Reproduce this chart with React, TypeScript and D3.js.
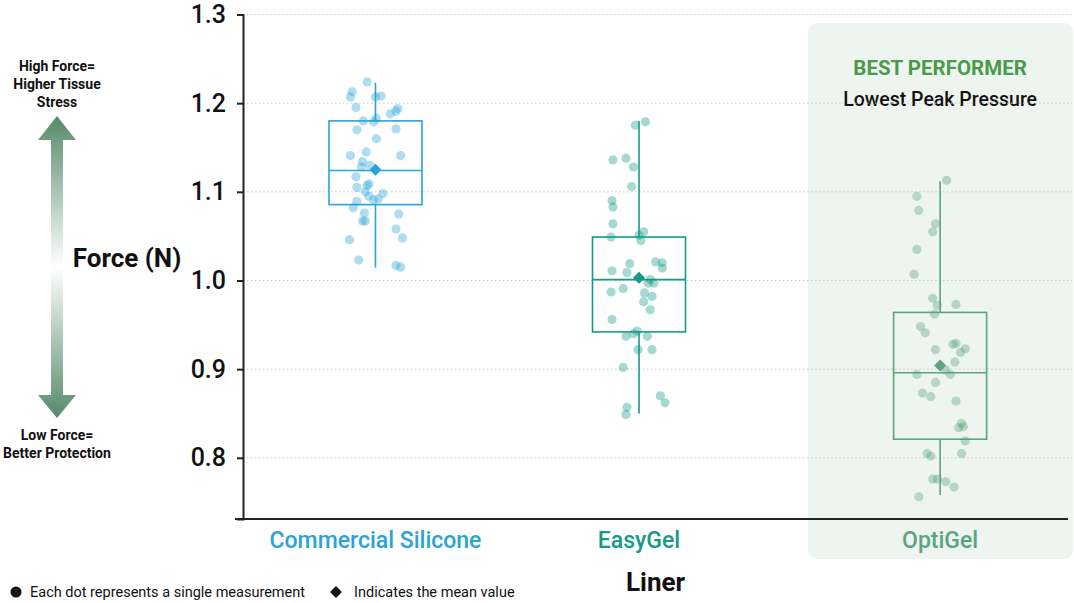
import React, { useEffect, useRef } from 'react';
import * as d3 from 'd3';

// categories and summary stats
const categories = ['Commercial Silicone', 'EasyGel', 'OptiGel'];
const colors = ['#2ba3d8', '#169a88', '#5aa47e'];
const q1 = [1.0856, 0.942, 0.821];
const medians = [1.124, 1.001, 0.896];
const q3 = [1.18, 1.049, 0.964];
const whiskerLow = [1.0144, 0.85, 0.758];
const whiskerHigh = [1.223, 1.18, 1.112];
const means = [1.125, 1.003, 0.904];

// individual measurements
const siliconeValues = [
  1.224, 1.213, 1.207, 1.207, 1.208, 1.195, 1.194, 1.191, 1.188, 1.183, 1.179, 1.18, 1.17, 1.171,
  1.16, 1.145, 1.141, 1.141, 1.134, 1.128, 1.13, 1.117, 1.109, 1.105, 1.107, 1.1, 1.095, 1.092,
  1.098, 1.091, 1.089, 1.082, 1.076, 1.075, 1.067, 1.067, 1.058, 1.048, 1.046, 1.023, 1.017, 1.015,
];
const siliconeJitter = [
  -0.09, -0.25, -0.27, 0.0, 0.06, -0.21, 0.24, 0.22, 0.16, 0.01, -0.02, -0.13, -0.2, 0.22,
  0.01, -0.1, -0.27, 0.27, -0.14, -0.15, -0.06, -0.21, -0.07, -0.2, -0.09, -0.11, -0.07, 0.03,
  0.08, -0.02, -0.2, -0.24, -0.12, 0.25, -0.14, -0.11, 0.22, 0.29, -0.28, -0.18, 0.22, 0.27,
];
const easyGelValues = [
  1.179, 1.175, 1.136, 1.138, 1.128, 1.106, 1.09, 1.083, 1.064, 1.049, 1.051, 1.055, 1.045, 1.019,
  1.011, 1.009, 1.021, 1.02, 1.014, 1.001, 0.997, 0.997, 0.987, 0.991, 0.986, 0.982, 0.976, 0.967,
  0.956, 0.943, 0.94, 0.937, 0.937, 0.922, 0.922, 0.902, 0.87, 0.862, 0.857, 0.849,
];
const easyGelJitter = [
  0.07, -0.04, -0.28, -0.14, -0.06, -0.08, -0.29, -0.28, -0.28, -0.3, 0.0, 0.05, 0.02, -0.1,
  -0.29, -0.13, 0.18, 0.25, 0.25, 0.12, 0.1, 0.16, -0.3, -0.17, 0.06, 0.14, 0.05, 0.12,
  -0.29, -0.02, -0.06, -0.14, 0.09, -0.01, 0.14, -0.17, 0.23, 0.28, -0.13, -0.14,
];
const optiGelValues = [
  1.113, 1.095, 1.079, 1.064, 1.055, 1.035, 1.007, 0.98, 0.972, 0.973, 0.962, 0.948, 0.941, 0.922,
  0.928, 0.929, 0.919, 0.923, 0.908, 0.899, 0.894, 0.894, 0.885, 0.873, 0.869, 0.864, 0.839, 0.834,
  0.835, 0.819, 0.805, 0.805, 0.802, 0.776, 0.776, 0.773, 0.767, 0.756,
];
const optiGelJitter = [
  0.07, -0.25, -0.23, -0.05, -0.08, -0.25, -0.28, -0.08, -0.03, 0.17, -0.06, -0.21, -0.16, -0.05,
  0.14, 0.17, 0.22, 0.27, 0.16, 0.06, 0.11, -0.25, -0.05, -0.19, -0.1, 0.17, 0.23, 0.2,
  0.25, 0.27, 0.23, -0.14, -0.1, -0.08, -0.03, 0.06, 0.15, -0.23,
];
const pointValues = [siliconeValues, easyGelValues, optiGelValues];
const pointJitter = [siliconeJitter, easyGelJitter, optiGelJitter];

const yTicks = [0.8, 0.9, 1.0, 1.1, 1.2, 1.3];

const W = 1074;
const H = 603;
const FONT = "Roboto, 'DejaVu Sans', sans-serif";

const App: React.FC = () => {
  const svgRef = useRef<SVGSVGElement | null>(null);

  useEffect(() => {
    if (!svgRef.current) return;
    const svg = d3.select(svgRef.current);
    svg.selectAll('*').remove();

    const left = 243;
    const right = 1068;
    const top = 14.5;
    const bottom = 519;
    const boxW = 93;

    const y = d3.scaleLinear().domain([0.731, 1.3]).range([bottom, top]);
    // category centres are not evenly spaced in the original
    const x = d3.scaleOrdinal<string, number>()
      .domain(categories)
      .range([0.1606, 0.48, 0.845].map(f => left + f * (right - left)));

    const defs = svg.append('defs');
    const grad = defs.append('linearGradient')
      .attr('id', 'force-grad')
      .attr('x1', 0).attr('y1', 0).attr('x2', 0).attr('y2', 1);
    grad.append('stop').attr('offset', '0%').attr('stop-color', '#558a69');
    grad.append('stop').attr('offset', '50%').attr('stop-color', '#ffffff');
    grad.append('stop').attr('offset', '100%').attr('stop-color', '#558a69');

    // highlight panel behind OptiGel
    svg.append('rect')
      .attr('x', 808).attr('y', 23)
      .attr('width', 265).attr('height', 536)
      .attr('rx', 9)
      .attr('fill', '#eef5f0');

    svg.append('text')
      .attr('x', x('OptiGel')).attr('y', 75)
      .attr('text-anchor', 'middle')
      .style('font-family', FONT).style('font-weight', 700).style('font-size', '20.5px')
      .style('fill', '#4a9a48')
      .text('BEST PERFORMER');
    svg.append('text')
      .attr('x', x('OptiGel')).attr('y', 106)
      .attr('text-anchor', 'middle')
      .style('font-family', FONT).style('font-weight', 500).style('font-size', '19.5px')
      .style('fill', '#111')
      .text('Lowest Peak Pressure');

    // grid
    svg.append('g')
      .selectAll('line')
      .data(yTicks)
      .enter()
      .append('line')
      .attr('x1', left).attr('x2', 1072)
      .attr('y1', d => y(d)).attr('y2', d => y(d))
      .attr('stroke', '#c8c8c8')
      .attr('stroke-width', 1)
      .attr('stroke-dasharray', '1.5,2.5');

    // y axis
    const yAxis = svg.append('g')
      .attr('transform', `translate(${left},0)`)
      .call(d3.axisLeft(y).tickValues(yTicks).tickFormat(d3.format('.1f')).tickSize(6).tickPadding(11));
    yAxis.selectAll('path, line').attr('stroke', '#222').attr('stroke-width', 2);
    yAxis.selectAll('text')
      .style('font-family', FONT).style('font-size', '25px').style('font-weight', 500)
      .style('fill', '#111');

    // x axis line
    svg.append('line')
      .attr('x1', left - 8).attr('x2', right)
      .attr('y1', bottom).attr('y2', bottom)
      .attr('stroke', '#222').attr('stroke-width', 2);

    categories.forEach((cat, i) => {
      const cx = x(cat);
      const color = colors[i];
      const g = svg.append('g');

      // whiskers
      g.append('line')
        .attr('x1', cx).attr('x2', cx)
        .attr('y1', y(q3[i])).attr('y2', y(whiskerHigh[i]))
        .attr('stroke', color).attr('stroke-width', 1.6);
      g.append('line')
        .attr('x1', cx).attr('x2', cx)
        .attr('y1', y(q1[i])).attr('y2', y(whiskerLow[i]))
        .attr('stroke', color).attr('stroke-width', 1.6);

      // box
      g.append('rect')
        .attr('x', cx - boxW / 2).attr('y', y(q3[i]))
        .attr('width', boxW).attr('height', y(q1[i]) - y(q3[i]))
        .attr('fill', 'none')
        .attr('stroke', color).attr('stroke-width', 1.6);
      g.append('line')
        .attr('x1', cx - boxW / 2).attr('x2', cx + boxW / 2)
        .attr('y1', y(medians[i])).attr('y2', y(medians[i]))
        .attr('stroke', color).attr('stroke-width', 1.6);

      // points
      g.selectAll('circle')
        .data(pointValues[i].map((v, k) => ({ v, j: pointJitter[i][k] })))
        .enter()
        .append('circle')
        .attr('cx', d => cx + d.j * boxW)
        .attr('cy', d => y(d.v))
        .attr('r', 4.6)
        .attr('fill', color)
        .attr('fill-opacity', 0.38);

      // mean
      g.append('path')
        .attr('d', d3.symbol(d3.symbolSquare, 72)())
        .attr('transform', `translate(${cx},${y(means[i])}) rotate(45)`)
        .attr('fill', color);

      // category label
      svg.append('text')
        .attr('x', cx).attr('y', 548)
        .attr('text-anchor', 'middle')
        .style('font-family', FONT).style('font-size', '23px').style('font-weight', 500)
        .style('fill', color)
        .text(cat);
    });

    // axis titles
    svg.append('text')
      .attr('x', (left + right) / 2).attr('y', 591)
      .attr('text-anchor', 'middle')
      .style('font-family', FONT).style('font-size', '26px').style('font-weight', 700)
      .style('fill', '#111')
      .text('Liner');
    svg.append('text')
      .attr('x', 127).attr('y', 267)
      .attr('text-anchor', 'middle')
      .style('font-family', FONT).style('font-size', '26px').style('font-weight', 700)
      .style('fill', '#111')
      .text('Force (N)');

    // left arrow annotation
    const ax = 57;
    svg.append('path')
      .attr('d', [
        `M${ax},116`, `L${ax + 19},140`, `L${ax + 6},140`, `L${ax + 6},395`, `L${ax + 19},395`,
        `L${ax},418`, `L${ax - 19},395`, `L${ax - 6},395`, `L${ax - 6},140`, `L${ax - 19},140`, 'Z',
      ].join(' '))
      .attr('fill', 'url(#force-grad)');

    const note = (lines: string[], y0: number) => {
      lines.forEach((t, k) => {
        svg.append('text')
          .attr('x', ax).attr('y', y0 + k * 18)
          .attr('text-anchor', 'middle')
          .style('font-family', FONT).style('font-size', '14px').style('font-weight', 700)
          .style('fill', '#111')
          .text(t);
      });
    };
    note(['High Force=', 'Higher Tissue', 'Stress'], 71);
    note(['Low Force=', 'Better Protection'], 440);

    // legend
    svg.append('circle').attr('cx', 16).attr('cy', 592).attr('r', 5.5).attr('fill', '#111');
    svg.append('text')
      .attr('x', 30).attr('y', 597)
      .style('font-family', FONT).style('font-size', '14.5px').style('fill', '#111')
      .text('Each dot represents a single measurement');
    svg.append('path')
      .attr('d', d3.symbol(d3.symbolSquare, 70)())
      .attr('transform', 'translate(336,592) rotate(45)')
      .attr('fill', '#111');
    svg.append('text')
      .attr('x', 354).attr('y', 597)
      .style('font-family', FONT).style('font-size', '14.5px').style('fill', '#111')
      .text('Indicates the mean value');
  }, []);

  return (
    <div style={{ position: 'fixed', left: 0, top: 0, width: W, height: H, background: '#fff' }}>
      <svg ref={svgRef} width={W} height={H}></svg>
    </div>
  );
};

export default App;
